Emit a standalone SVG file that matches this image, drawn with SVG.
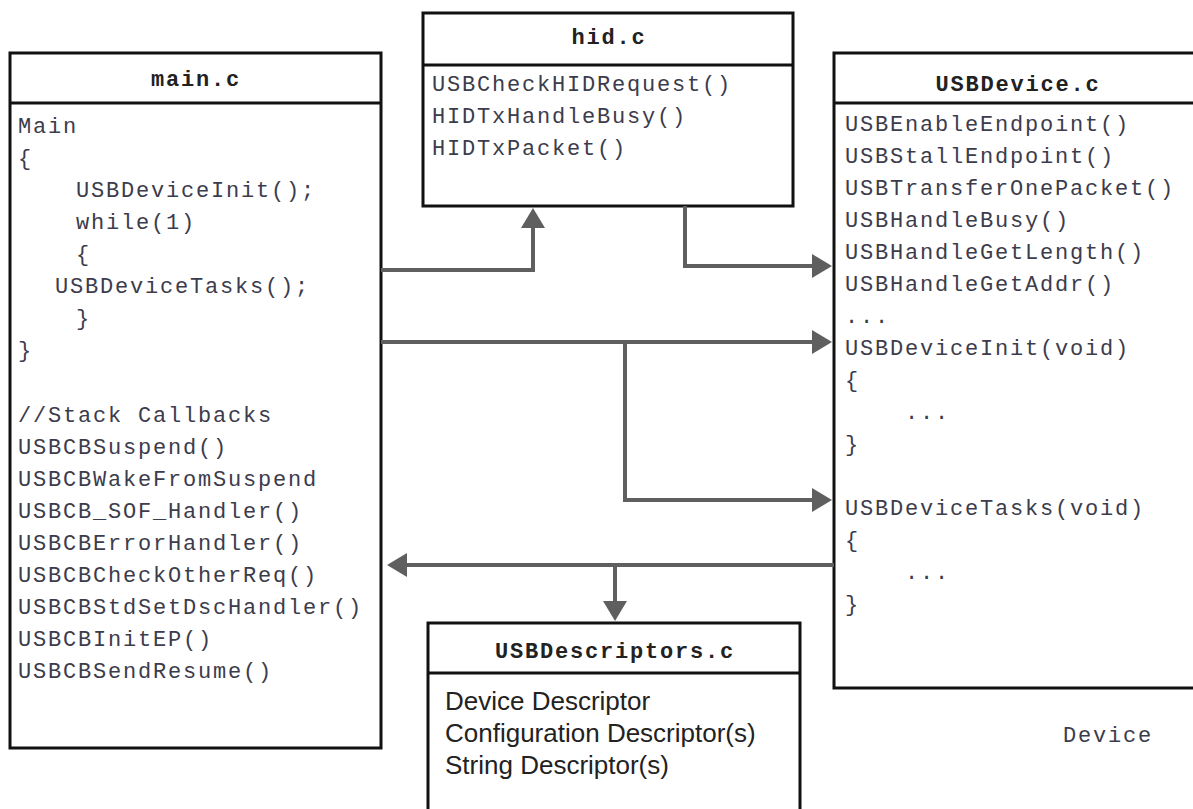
<svg xmlns="http://www.w3.org/2000/svg" width="1193" height="809" viewBox="0 0 1193 809">
<style>
.box{fill:#fff;stroke:#111;stroke-width:3}
.div{stroke:#111;stroke-width:3}
.title{font-family:"Liberation Mono",monospace;font-weight:bold;font-size:22px;letter-spacing:1.8px;fill:#222;text-anchor:middle}
.code{font-family:"Liberation Mono",monospace;font-size:22px;letter-spacing:1.8px;fill:#3c3c4c}
.sans{font-family:"Liberation Sans",Arial,sans-serif;font-size:26px;fill:#222}
.conn{fill:none;stroke:#5f5f5f;stroke-width:4;stroke-linejoin:miter}
</style>
<defs>
<marker id="ah" viewBox="0 0 20 24" refX="10" refY="12" markerWidth="20" markerHeight="24" markerUnits="userSpaceOnUse" orient="auto">
<path d="M0,0 L20,12 L0,24 z" fill="#5f5f5f"/>
</marker>
</defs>
<rect width="1193" height="809" fill="#fff"/>

<g id="main_c">
<rect class="box" x="10" y="53" width="371" height="695"/>
<line class="div" x1="10" y1="103" x2="381" y2="103"/>
<text class="title" x="196" y="86">main.c</text>
<text class="code" x="18" y="133">Main</text>
<text class="code" x="18" y="165">{</text>
<text class="code" x="76" y="197">USBDeviceInit();</text>
<text class="code" x="76" y="229">while(1)</text>
<text class="code" x="76" y="261">{</text>
<text class="code" x="55" y="293">USBDeviceTasks();</text>
<text class="code" x="76" y="325">}</text>
<text class="code" x="18" y="357">}</text>
<text class="code" x="18" y="422">//Stack Callbacks</text>
<text class="code" x="18" y="454">USBCBSuspend()</text>
<text class="code" x="18" y="486">USBCBWakeFromSuspend</text>
<text class="code" x="18" y="518">USBCB_SOF_Handler()</text>
<text class="code" x="18" y="550">USBCBErrorHandler()</text>
<text class="code" x="18" y="582">USBCBCheckOtherReq()</text>
<text class="code" x="18" y="614">USBCBStdSetDscHandler()</text>
<text class="code" x="18" y="646">USBCBInitEP()</text>
<text class="code" x="18" y="678">USBCBSendResume()</text>
</g>

<g id="hid_c">
<rect class="box" x="423" y="13" width="370" height="193"/>
<line class="div" x1="423" y1="65" x2="793" y2="65"/>
<text class="title" x="609" y="44">hid.c</text>
<text class="code" x="432" y="91">USBCheckHIDRequest()</text>
<text class="code" x="432" y="123">HIDTxHandleBusy()</text>
<text class="code" x="432" y="155">HIDTxPacket()</text>
</g>

<g id="usbdevice_c">
<rect class="box" x="834" y="53" width="370" height="635"/>
<line class="div" x1="834" y1="103" x2="1204" y2="103"/>
<text class="title" x="1018" y="91">USBDevice.c</text>
<text class="code" x="845" y="131">USBEnableEndpoint()</text>
<text class="code" x="845" y="163">USBStallEndpoint()</text>
<text class="code" x="845" y="195">USBTransferOnePacket()</text>
<text class="code" x="845" y="227">USBHandleBusy()</text>
<text class="code" x="845" y="259">USBHandleGetLength()</text>
<text class="code" x="845" y="291">USBHandleGetAddr()</text>
<text class="code" x="845" y="323">...</text>
<text class="code" x="845" y="355">USBDeviceInit(void)</text>
<text class="code" x="845" y="387">{</text>
<text class="code" x="905" y="419">...</text>
<text class="code" x="845" y="451">}</text>
<text class="code" x="845" y="515">USBDeviceTasks(void)</text>
<text class="code" x="845" y="547">{</text>
<text class="code" x="905" y="579">...</text>
<text class="code" x="845" y="611">}</text>
</g>

<g id="usbdescriptors_c">
<rect class="box" x="428" y="623" width="372" height="200"/>
<line class="div" x1="428" y1="673" x2="800" y2="673"/>
<text class="title" x="615" y="658">USBDescriptors.c</text>
<text class="sans" x="445" y="710">Device Descriptor</text>
<text class="sans" x="445" y="742">Configuration Descriptor(s)</text>
<text class="sans" x="445" y="774">String Descriptor(s)</text>
</g>

<g id="device_label">
<text class="code" x="1063" y="742">Device</text>
</g>

<g id="connectors">
<path class="conn" d="M381,270 H533 V218" marker-end="url(#ah)"/>
<path class="conn" d="M685,206 V266 H822" marker-end="url(#ah)"/>
<path class="conn" d="M381,342 H822" marker-end="url(#ah)"/>
<path class="conn" d="M625,342 V500 H822" marker-end="url(#ah)"/>
<path class="conn" d="M834,565 H397" marker-end="url(#ah)"/>
<path class="conn" d="M615,565 V611" marker-end="url(#ah)"/>
</g>
</svg>
